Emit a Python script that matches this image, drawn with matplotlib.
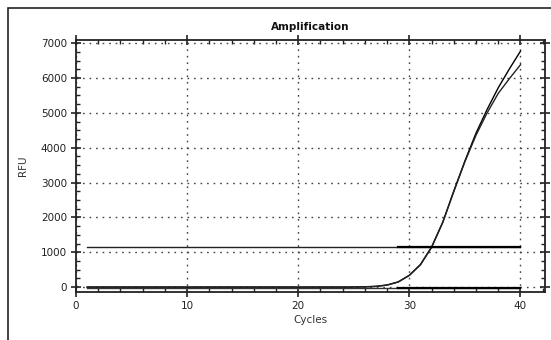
import matplotlib.pyplot as plt
from matplotlib.patches import Rectangle
from matplotlib.ticker import MultipleLocator

# Amplification data (RFU per cycle)
cycles = list(range(1, 41))
sample_a = [0, 0, 0, 0, 0, 0, 0, 0, 0, 0, 0, 0, 0, 0, 0, 0, 0, 0, 0, 0,
            0, 0, 0, 0, 2, 8, 20, 60, 150, 340, 650, 1150, 1860, 2760, 3620,
            4420, 5100, 5720, 6260, 6770]
sample_b = [0, 0, 0, 0, 0, 0, 0, 0, 0, 0, 0, 0, 0, 0, 0, 0, 0, 0, 0, 0,
            0, 0, 0, 0, 2, 8, 20, 58, 145, 335, 640, 1140, 1850, 2740, 3600,
            4360, 5000, 5560, 5980, 6380]
negative = [-20] * 40
threshold = 1150
highlight_from = 29  # the bolder stretch of threshold/negative lines

fig = plt.figure(figsize=(5.51, 3.40), dpi=100)
ax = fig.add_axes([0.138, 0.141, 0.851, 0.741])

# outer frame of the software window
fig.patches.append(Rectangle((8 / 551, -0.1), 1.1, 1 - 8 / 340 + 0.1,
                             transform=fig.transFigure, fill=False,
                             edgecolor='#222222', linewidth=1.2))

ax.plot(cycles, negative, color='#333333', linewidth=1.0)
ax.plot(cycles, sample_a, color='black', linewidth=1.0)
ax.plot(cycles, sample_b, color='#222222', linewidth=1.0)
ax.plot([cycles[0], cycles[-1]], [threshold, threshold], color='#222222', linewidth=1.0)

# bolder segment near the end
hl = [c for c in cycles if c >= highlight_from]
ax.plot(hl, [threshold] * len(hl), color='black', linewidth=1.6)
ax.plot(hl, negative[highlight_from - 1:], color='black', linewidth=1.6)

ax.set_xlim(0, 42.2)
ax.set_ylim(-143, 7086)
ax.xaxis.set_major_locator(MultipleLocator(10))
ax.xaxis.set_minor_locator(MultipleLocator(2))
ax.yaxis.set_major_locator(MultipleLocator(1000))
ax.yaxis.set_minor_locator(MultipleLocator(250))

ax.grid(True, which='major', linestyle=(0, (1.2, 3.5)), color='#444444', linewidth=1.0)
ax.tick_params(which='major', direction='inout', length=7, width=1.2,
               top=True, right=True, labelsize=7.5, colors='#222222', pad=3)
ax.tick_params(which='minor', direction='in', length=3, width=1.0,
               top=True, right=True, colors='#222222')
for s in ax.spines.values():
    s.set_linewidth(1.3)
    s.set_color('#222222')

ax.set_title('Amplification', fontsize=7.5, pad=7, color='#111111', fontweight='semibold')
ax.set_xlabel('Cycles', fontsize=7.5, color='#333333', labelpad=3)
ax.set_ylabel('RFU', fontsize=7.5, color='#333333', labelpad=9)

plt.savefig('out.png', dpi=100)
